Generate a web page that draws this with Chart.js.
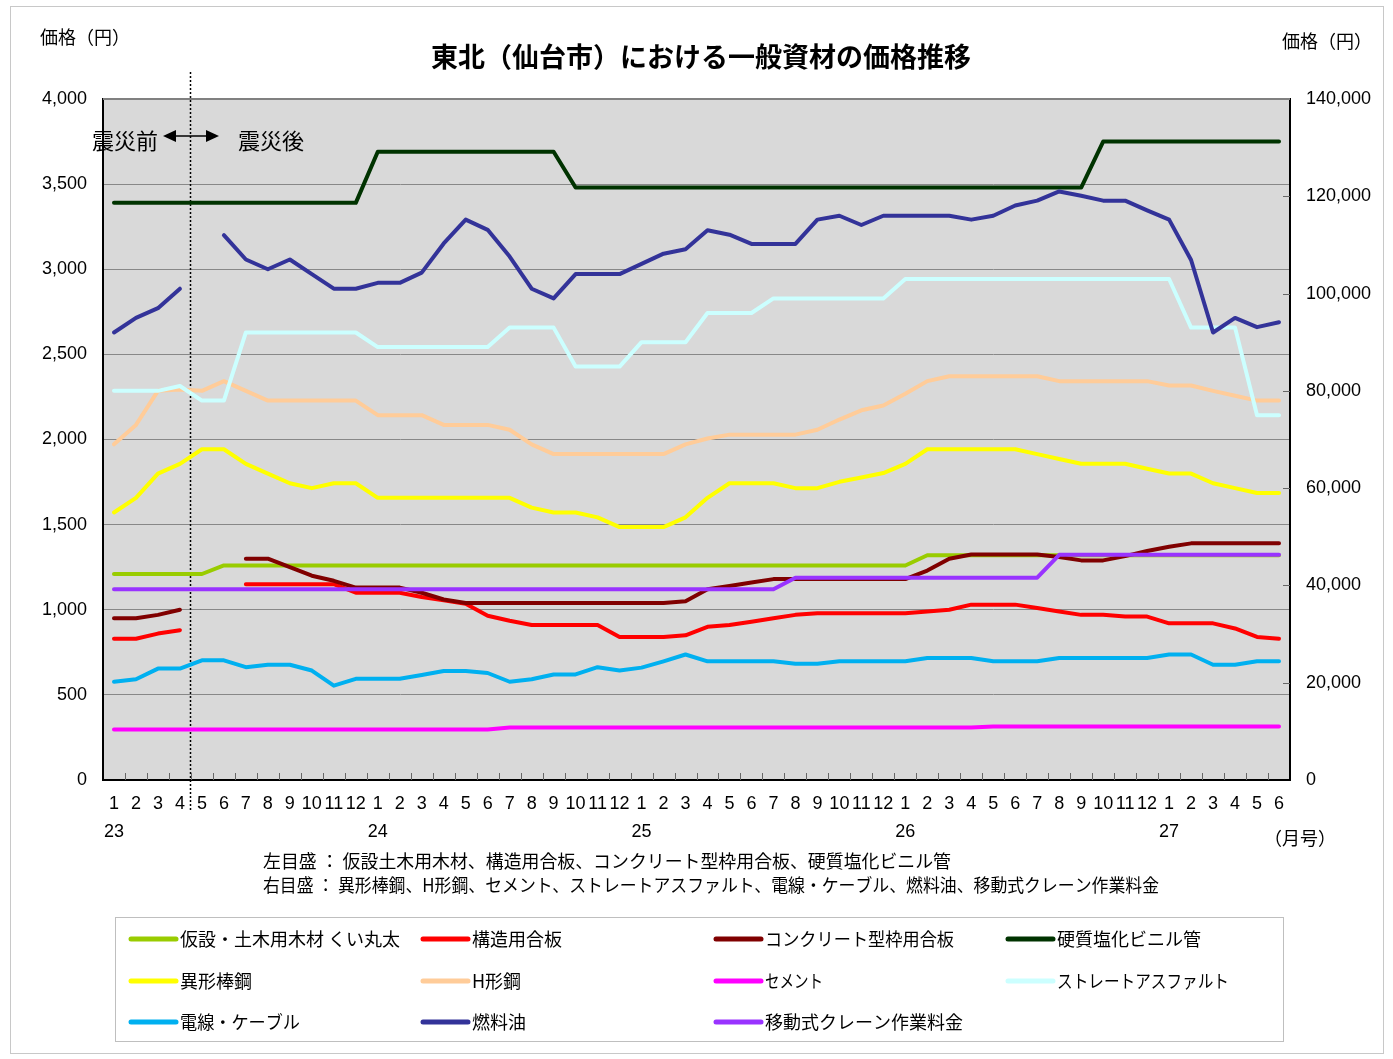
<!DOCTYPE html>
<html><head><meta charset="utf-8">
<script src="https://cdn.jsdelivr.net/npm/chart.js@4"></script>
<style>html,body{margin:0;padding:0;background:#fff;}#wrap{position:relative;width:1393px;height:1059px;}</style>
</head><body><div id="wrap"><canvas id="c" width="1393" height="1059"></canvas></div>
<script>
// ---- categories ----
const months = [
 "1","2","3","4","5","6","7","8","9","10","11","12",
 "1","2","3","4","5","6","7","8","9","10","11","12",
 "1","2","3","4","5","6","7","8","9","10","11","12",
 "1","2","3","4","5","6","7","8","9","10","11","12",
 "1","2","3","4","5","6"];
const yearLabels = ["23","24","25","26","27"];
const yearIndex = [0,12,24,36,48];

// ---- left axis series (円) ----
const kasetsu = [
 1210,1210,1210,1210,1210,1260,1260,1260,1260,1260,1260,1260,
 1260,1260,1260,1260,1260,1260,1260,1260,1260,1260,1260,1260,
 1260,1260,1260,1260,1260,1260,1260,1260,1260,1260,1260,1260,
 1260,1320,1320,1320,1320,1320,1320,1320,1320,1320,1320,1320,
 1320,1320,1320,1320,1320,1320];
const kozo = [
 830,830,860,880,null,null,1150,1150,1150,1150,1150,1100,
 1100,1100,1075,1055,1035,965,935,910,910,910,910,840,
 840,840,850,900,910,930,950,970,980,980,980,980,
 980,990,1000,1030,1030,1030,1010,990,970,970,960,960,
 920,920,920,890,840,830];
const konkuri = [
 950,950,970,1000,null,null,1300,1300,1250,1200,1170,1130,
 1130,1130,1100,1060,1040,1040,1040,1040,1040,1040,1040,1040,
 1040,1040,1050,1120,1140,1160,1180,1180,1180,1180,1180,1180,
 1180,1230,1300,1325,1325,1325,1325,1310,1290,1290,1315,1345,
 1370,1390,1390,1390,1390,1390];
const koshitsu = [
 3390,3390,3390,3390,3390,3390,3390,3390,3390,3390,3390,3390,
 3690,3690,3690,3690,3690,3690,3690,3690,3690,3480,3480,3480,
 3480,3480,3480,3480,3480,3480,3480,3480,3480,3480,3480,3480,
 3480,3480,3480,3480,3480,3480,3480,3480,3480,3750,3750,3750,
 3750,3750,3750,3750,3750,3750];

// ---- right axis series (円) ----
const ikei = [
 55000,58000,63000,65000,68000,68000,65000,63000,61000,60000,61000,61000,
 58000,58000,58000,58000,58000,58000,58000,56000,55000,55000,54000,52000,
 52000,52000,54000,58000,61000,61000,61000,60000,60000,61300,62200,63100,
 65000,68000,68000,68000,68000,68000,67000,66000,65000,65000,65000,64000,
 63000,63000,61000,60000,59000,59000];
const hgata = [
 69000,73000,80000,80300,80000,82000,80000,78000,78000,78000,78000,78000,
 75000,75000,75000,73000,73000,73000,72000,69000,67000,67000,67000,67000,
 67000,67000,69000,70200,71000,71000,71000,71000,72000,74100,76000,77000,
 79400,82000,83000,83000,83000,83000,83000,82000,82000,82000,82000,82000,
 81100,81100,80000,79000,78000,78000];
const cement = [
 10400,10400,10400,10400,10400,10400,10400,10400,10400,10400,10400,10400,
 10400,10400,10400,10400,10400,10400,10800,10800,10800,10800,10800,10800,
 10800,10800,10800,10800,10800,10800,10800,10800,10800,10800,10800,10800,
 10800,10800,10800,10800,11000,11000,11000,11000,11000,11000,11000,11000,
 11000,11000,11000,11000,11000,11000];
const asphalt = [
 80000,80000,80000,81000,78000,78000,92000,92000,92000,92000,92000,92000,
 89000,89000,89000,89000,89000,89000,93000,93000,93000,85000,85000,85000,
 90000,90000,90000,96000,96000,96000,99000,99000,99000,99000,99000,99000,
 103000,103000,103000,103000,103000,103000,103000,103000,103000,103000,103000,103000,
 103000,93000,93000,93000,75000,75000];
const cable = [
 20200,20700,22900,22900,24600,24600,23200,23700,23700,22500,19400,20800,
 20800,20800,21600,22400,22400,22000,20200,20700,21700,21700,23200,22500,
 23100,24400,25800,24400,24400,24400,24400,23900,23900,24400,24400,24400,
 24400,25100,25100,25100,24400,24400,24400,25100,25100,25100,25100,25100,
 25800,25800,23700,23700,24400,24400];
const fuel = [
 92000,95000,97000,101000,null,112000,107000,105000,107000,104000,101000,101000,
 102200,102200,104300,110300,115200,113100,107600,101000,99000,104000,104000,104000,
 106100,108200,109100,113000,112100,110200,110200,110200,115200,116000,114100,116000,
 116000,116000,116000,115200,116000,118100,119100,121000,120100,119100,119100,117100,
 115200,106900,92000,95000,93100,94100];
const crane = [
 39200,39200,39200,39200,39200,39200,39200,39200,39200,39200,39200,39200,
 39200,39200,39200,39200,39200,39200,39200,39200,39200,39200,39200,39200,
 39200,39200,39200,39200,39200,39200,39200,41600,41600,41600,41600,41600,
 41600,41600,41600,41600,41600,41600,41600,46300,46300,46300,46300,46300,
 46300,46300,46300,46300,46300,46300];

const seriesNames = ["仮設・土木用木材 くい丸太","構造用合板","コンクリート型枠用合板","硬質塩化ビニル管",
 "異形棒鋼","H形鋼","セメント","ストレートアスファルト","電線・ケーブル","燃料油","移動式クレーン作業料金"];
const seriesData = [kasetsu,kozo,konkuri,koshitsu,ikei,hgata,cement,asphalt,cable,fuel,crane];
const seriesAxis = ["y","y","y","y","y2","y2","y2","y2","y2","y2","y2"];
const seriesColors = ["#99CC00","#FF0000","#800000","#003300","#FFFF00","#FFCC99","#FF00FF","#CCFFFF","#00B0F0","#333399","#9933FF"];
// legend text max widths (layout style)
const legendTextMax = [222,94,189,148,76,52,58,172,120,55,199];

const JP = "'Noto Sans CJK JP', sans-serif";
const NUM = "'Liberation Sans', 'Noto Sans CJK JP', sans-serif";

const N = seriesNames.length;
const datasets = seriesNames.map((name,i)=>({
  label:name, data:seriesData[i], yAxisID:seriesAxis[i],
  borderColor:seriesColors[i], backgroundColor:seriesColors[i],
  borderWidth:4, pointRadius:0, fill:false, tension:0, spanGaps:false,
  borderCapStyle:'round', borderJoinStyle:'round', order:N-i
}));

const deco = {
  id:'deco',
  beforeDraw(c){
    const {ctx, chartArea:a} = c;
    ctx.save();
    ctx.fillStyle='#fff'; ctx.fillRect(0,0,c.width,c.height);
    ctx.fillStyle='#D9D9D9'; ctx.fillRect(a.left,a.top,a.right-a.left,a.bottom-a.top);
    ctx.restore();
  },
  beforeDatasetsDraw(c){
    const {ctx} = c; const x = c.scales.x;
    const xd = Math.round((x.getPixelForValue(3)+x.getPixelForValue(4))/2)-0.5;
    ctx.save();
    ctx.strokeStyle='#000'; ctx.lineWidth=1.5; ctx.setLineDash([2,2]);
    ctx.beginPath(); ctx.moveTo(xd,72); ctx.lineTo(xd,810); ctx.stroke();
    ctx.restore();
  },
  afterDraw(c){
    const {ctx, chartArea:a} = c; const x = c.scales.x, y2 = c.scales.y2;
    ctx.save();
    // top border of plot area
    ctx.strokeStyle='#808080'; ctx.lineWidth=2;
    ctx.beginPath(); ctx.moveTo(a.left,a.top); ctx.lineTo(a.right,a.top); ctx.stroke();
    // inside category tick marks
    ctx.strokeStyle='#666'; ctx.lineWidth=1;
    const w = (a.right-a.left)/months.length;
    for(let i=1;i<months.length;i++){
      const px = Math.round(a.left+i*w)+0.5;
      ctx.beginPath(); ctx.moveTo(px,a.bottom-7); ctx.lineTo(px,a.bottom); ctx.stroke();
    }
    // right axis inside ticks
    for(let v=20000; v<140000; v+=20000){
      const py = Math.round(y2.getPixelForValue(v))+0.5;
      ctx.beginPath(); ctx.moveTo(a.right-7,py); ctx.lineTo(a.right,py); ctx.stroke();
    }
    // texts
    ctx.fillStyle='#000'; ctx.textBaseline='middle';
    ctx.font = "18px "+JP; ctx.textAlign='left';
    ctx.fillText("価格（円）",40,37);
    ctx.fillText("価格（円）",1282,41);
    ctx.font = "bold 27px "+JP; ctx.textAlign='center';
    ctx.fillText("東北（仙台市）における一般資材の価格推移",701,57);
    ctx.font = "22px "+JP; ctx.textAlign='left';
    ctx.fillText("震災前",92,141);
    ctx.fillText("震災後",238,141);
    // arrow
    ctx.strokeStyle='#000'; ctx.lineWidth=1.5;
    ctx.beginPath(); ctx.moveTo(172,136); ctx.lineTo(208,136); ctx.stroke();
    ctx.beginPath(); ctx.moveTo(163,136); ctx.lineTo(176,130); ctx.lineTo(176,142); ctx.closePath(); ctx.fill();
    ctx.beginPath(); ctx.moveTo(219,136); ctx.lineTo(206,130); ctx.lineTo(206,142); ctx.closePath(); ctx.fill();
    // year labels
    ctx.font = "18px "+NUM; ctx.textAlign='center';
    yearLabels.forEach((t,k)=>ctx.fillText(t, x.getPixelForValue(yearIndex[k]), 832));
    ctx.font = "18px "+JP; ctx.textAlign='left';
    ctx.fillText("（月号）",1264,838);
    ctx.fillText("左目盛 ： 仮設土木用木材、構造用合板、コンクリート型枠用合板、硬質塩化ビニル管",263,861,688);
    ctx.fillText("右目盛 ： 異形棒鋼、H形鋼、セメント、ストレートアスファルト、電線・ケーブル、燃料油、移動式クレーン作業料金",263,885,896);
    // legend
    ctx.strokeStyle='#BFBFBF'; ctx.lineWidth=1;
    ctx.strokeRect(115.5,917.5,1168,124);
    const colX=[129,421,714,1006], rowY=[939,981,1022];
    ctx.font = "18px "+JP; ctx.lineCap='round';
    seriesNames.forEach((name,i)=>{
      const cx=colX[i%4], cy=rowY[Math.floor(i/4)];
      ctx.strokeStyle=seriesColors[i]; ctx.lineWidth=5;
      ctx.beginPath(); ctx.moveTo(cx+2,cy); ctx.lineTo(cx+47,cy); ctx.stroke();
      ctx.fillStyle='#000'; ctx.fillText(name,cx+51,cy,legendTextMax[i]);
    });
    // outer frame
    ctx.lineCap='butt'; ctx.strokeStyle='#C8C8C8'; ctx.lineWidth=1;
    ctx.strokeRect(10.5,6.5,1373,1047);
    ctx.restore();
  }
};

new Chart(document.getElementById('c').getContext('2d'), {
  type:'line',
  data:{labels:months, datasets},
  options:{
    responsive:false, animation:false, devicePixelRatio:1,
    layout:{padding:{top:99,left:0,right:0,bottom:0}},
    plugins:{legend:{display:false},tooltip:{enabled:false},title:{display:false}},
    scales:{
      x:{type:'category', offset:true,
         grid:{display:false, drawTicks:false},
         border:{display:true,color:'#000',width:2},
         ticks:{autoSkip:false,maxRotation:0,minRotation:0,padding:13,color:'#000',font:{family:NUM,size:18}},
         afterFit(s){s.height=1059-780;}},
      y:{position:'left', min:0, max:4000,
         ticks:{stepSize:500,padding:16,color:'#000',font:{family:NUM,size:18},callback:v=>v.toLocaleString('en-US')},
         grid:{color:'#888888',lineWidth:1,drawTicks:false},
         border:{color:'#000',width:2},
         afterFit(s){s.width=103;}},
      y2:{position:'right', min:0, max:140000,
         ticks:{stepSize:20000,padding:16,color:'#000',font:{family:NUM,size:18},callback:v=>v.toLocaleString('en-US')},
         grid:{drawOnChartArea:false,drawTicks:false},
         border:{color:'#000',width:2},
         afterFit(s){s.width=103;}}
    }
  },
  plugins:[deco]
});
</script></body></html>
